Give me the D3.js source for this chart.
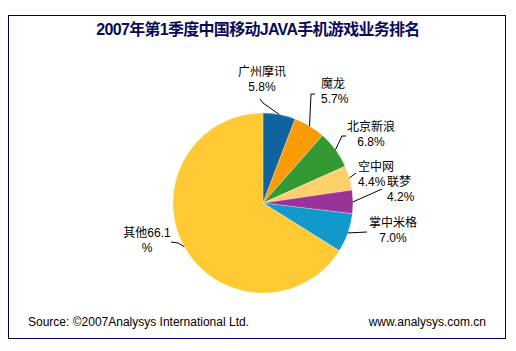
<!DOCTYPE html>
<html>
<head>
<meta charset="utf-8">
<script src="https://cdn.jsdelivr.net/npm/d3@7"></script>
<style>
  body { margin: 0; background: #fff; }
  svg { display: block; font-family: 'Liberation Sans', Arial, 'Noto Sans CJK SC', sans-serif; }
</style>
</head>
<body>
<svg id="chart"></svg>
<script>
// data
const names = ['广州摩讯', '魔龙', '北京新浪', '空中网', '联梦', '掌中米格', '其他'];
const values = [5.8, 5.7, 6.8, 4.4, 4.2, 7.0, 66.1];
const colors = ['#0f64a0', '#f99c07', '#339a33', '#ffcf6c', '#9a3399', '#1199cc', '#ffc933'];

const title = '2007年第1季度中国移动JAVA手机游戏业务排名';
const source = 'Source: ©2007Analysys International Ltd.';
const site = 'www.analysys.com.cn';

// label placement, one entry per slice (text lines, anchor, x, baseline y, leader bend points)
const labels = [
  {lines: ['广州摩讯', '5.8%'], anchor: 'middle', x: 262, y: 76, leader: [[263, 103], [260, 99]]},
  {lines: ['魔龙', '5.7%'], anchor: 'start', x: 321, y: 88, leader: [[311, 94], [315, 94]]},
  {lines: ['北京新浪', '6.8%'], anchor: 'middle', x: 371, y: 131, leader: [[342, 136], [346, 136]]},
  {lines: ['空中网', '4.4%'], anchor: 'start', x: 358, y: 171, leader: [[356, 173]]},
  {lines: ['联梦', '4.2%'], anchor: 'start', x: 387, y: 186, leader: [[382, 189]]},
  {lines: ['掌中米格', '7.0%'], anchor: 'middle', x: 393, y: 227, leader: [[367, 232]]},
  {lines: ['其他66.1', '%'], anchor: 'middle', x: 147, y: 237, leader: [[178, 243], [171, 242]]}
];

const width = 516, height = 351;
const cx = 263, cy = 203, radius = 90;

const svg = d3.select('#chart')
    .attr('width', width)
    .attr('height', height);

svg.append('rect')
    .attr('x', 8.5)
    .attr('y', 15.5)
    .attr('width', 497)
    .attr('height', 323)
    .attr('fill', 'none')
    .attr('stroke', '#000050')
    .attr('stroke-width', 1);

svg.append('text')
    .attr('x', 258)
    .attr('y', 35)
    .attr('text-anchor', 'middle')
    .style('font-size', '16px')
    .style('font-weight', 'bold')
    .style('letter-spacing', '-0.7px')
    .attr('fill', '#0a0a5c')
    .text(title);

const data = names.map((n, i) => ({name: n, value: values[i], color: colors[i], label: labels[i]}));

const pie = d3.pie()
    .sort(null)
    .value(d => d.value);

const arc = d3.arc()
    .innerRadius(0)
    .outerRadius(radius);

const edge = d3.arc()
    .innerRadius(radius)
    .outerRadius(radius);

const g = svg.append('g')
    .attr('transform', `translate(${cx}, ${cy})`);

const arcs = pie(data);

g.selectAll('path.slice')
    .data(arcs)
    .enter()
    .append('path')
    .attr('class', 'slice')
    .attr('d', arc)
    .attr('fill', d => d.data.color)
    .attr('stroke', 'rgba(255,255,255,0.45)')
    .attr('stroke-width', 0.6);

// leader lines
const line = d3.line();
svg.selectAll('path.leader')
    .data(arcs)
    .enter()
    .append('path')
    .attr('class', 'leader')
    .attr('d', d => {
        const c = edge.centroid(d);
        const pts = [[cx + c[0], cy + c[1]]].concat(d.data.label.leader);
        return line(pts);
    })
    .attr('fill', 'none')
    .attr('stroke', '#000')
    .attr('stroke-width', 1);

// labels
const lbl = svg.selectAll('text.lbl')
    .data(data)
    .enter()
    .append('text')
    .attr('class', 'lbl')
    .attr('text-anchor', d => d.label.anchor)
    .style('font-size', '12px')
    .attr('fill', '#000');

lbl.selectAll('tspan')
    .data(d => d.label.lines.map((t, i) => ({t, i, x: d.label.x, y: d.label.y})))
    .enter()
    .append('tspan')
    .attr('x', d => d.x)
    .attr('y', d => d.y + d.i * 15)
    .text(d => d.t);

svg.append('text')
    .attr('x', 28)
    .attr('y', 326)
    .style('font-size', '12px')
    .attr('fill', '#000')
    .text(source);

svg.append('text')
    .attr('x', 486)
    .attr('y', 326)
    .attr('text-anchor', 'end')
    .style('font-size', '12px')
    .attr('fill', '#000')
    .text(site);
</script>
</body>
</html>
